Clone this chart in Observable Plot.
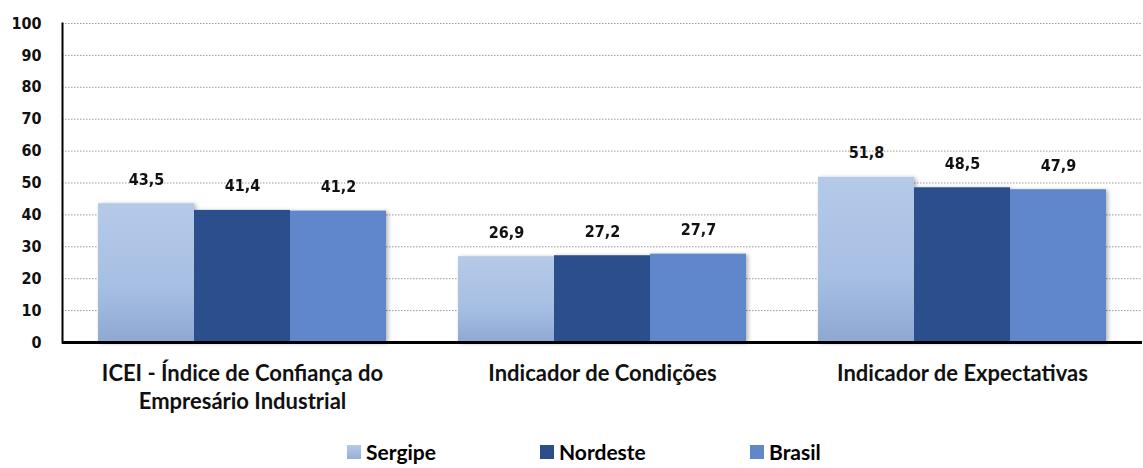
<!DOCTYPE html>
<html><head><meta charset="utf-8">
<script src="https://cdn.jsdelivr.net/npm/d3@7"></script>
<script src="https://cdn.jsdelivr.net/npm/@observablehq/plot@0.6"></script>
<style>
body{margin:0;background:#fff;}
#wrap{position:relative;width:1143px;height:468px;background:#fff;overflow:hidden;}
#legend{position:absolute;left:0;top:441px;width:1143px;height:22px;font-family:Lato,"Open Sans",sans-serif;font-weight:bold;font-size:21px;line-height:22px;color:#000;}
.item{position:absolute;top:0;display:flex;align-items:center;height:22px;}
.sw{width:14px;height:14px;margin-right:5px;}
</style></head><body>
<div id="wrap"><div id="chart"></div><div id="legend"></div></div>
<script>
const categories = ["ICEI - Índice de Confiança do Empresário Industrial", "Indicador de Condições", "Indicador de Expectativas"];
const categoryLabels = ["ICEI - Índice de Confiança do\nEmpresário Industrial", "Indicador de Condições", "Indicador de Expectativas"];
const series = ["Sergipe", "Nordeste", "Brasil"];
const sergipe = [43.5, 26.9, 51.8];
const nordeste = [41.4, 27.2, 48.5];
const brasil = [41.2, 27.7, 47.9];
const yTicks = [0, 10, 20, 30, 40, 50, 60, 70, 80, 90, 100];
const barColors = ["url(#gradSergipe)", "#2c4f8c", "#6187cb"];
const legendColors = ["linear-gradient(#b5cae9, #97afd8)", "#2c4f8c", "#6187cb"];
const legendLeft = [347, 540, 750];

const valuesBySeries = [sergipe, nordeste, brasil];
const rows = categories.flatMap((c, i) => series.map((s, j) => ({category: c, series: s, value: valuesBySeries[j][i]})));

const numFont = "'DejaVu Sans Condensed', 'DejaVu Sans', sans-serif";
const catFont = "Lato, 'Open Sans', sans-serif";

const svg = Plot.plot({
  width: 1143, height: 420,
  marginLeft: 61, marginRight: 0, marginTop: 23, marginBottom: 78,
  fx: {domain: categories, padding: 0, axis: null, label: null},
  x: {domain: series, paddingInner: 0, paddingOuter: 0.375, axis: null},
  y: {domain: [0, 100], axis: null},
  color: {domain: series, range: barColors},
  style: {background: "white", overflow: "visible"},
  marks: [
    Plot.gridY(yTicks.filter(t => t > 0), {stroke: "#9a9a9a", strokeOpacity: 1, strokeDasharray: "1.5,1.5"}),
    Plot.axisY(yTicks, {tickSize: 0, tickPadding: 21, fontSize: 16, fontWeight: "bold", fontFamily: numFont, fill: "#111", label: null}),
    Plot.barY(rows, {fx: "category", x: "series", y: "value", fill: "series"}),
    Plot.text(rows, {fx: "category", x: "series", y: "value", text: d => d.value.toFixed(1).replace(".", ","), lineAnchor: "bottom", dy: -19, fontSize: 16, fontWeight: "bold", fontFamily: numFont, fill: "#111"}),
    Plot.ruleY([0], {stroke: "#000", strokeWidth: 3}),
    Plot.axisFx({anchor: "bottom", tickSize: 0, tickPadding: 19, tickFormat: c => categoryLabels[categories.indexOf(c)], fontSize: 22, fontWeight: "bold", lineHeight: 1.27, fontFamily: catFont, fill: "#111", label: null}),
    Plot.frame({anchor: "left", fx: [categories[0]], stroke: "#000", strokeWidth: 2})
  ]
});

const defs = d3.select(svg).insert("defs", ":first-child");
const g = defs.append("linearGradient").attr("id", "gradSergipe").attr("x1", 0).attr("y1", 0).attr("x2", 0).attr("y2", 1);
g.append("stop").attr("offset", "0%").attr("stop-color", "#b5cae9");
g.append("stop").attr("offset", "60%").attr("stop-color", "#a7bfe3");
g.append("stop").attr("offset", "100%").attr("stop-color", "#8ea8d2");
const f = defs.append("filter").attr("id", "shadow").attr("x", "-10%").attr("y", "-10%").attr("width", "130%").attr("height", "130%");
f.append("feDropShadow").attr("dx", 2).attr("dy", 1).attr("stdDeviation", 2).attr("flood-color", "#000").attr("flood-opacity", 0.3);
d3.select(svg).selectAll("g[aria-label='bar']").attr("filter", "url(#shadow)");

document.getElementById("chart").appendChild(svg);

const legend = d3.select("#legend");
series.forEach((s, i) => {
  const it = legend.append("div").attr("class", "item").style("left", legendLeft[i] + "px");
  it.append("div").attr("class", "sw").style("background", legendColors[i]);
  it.append("span").text(s);
});
</script>
</body></html>
